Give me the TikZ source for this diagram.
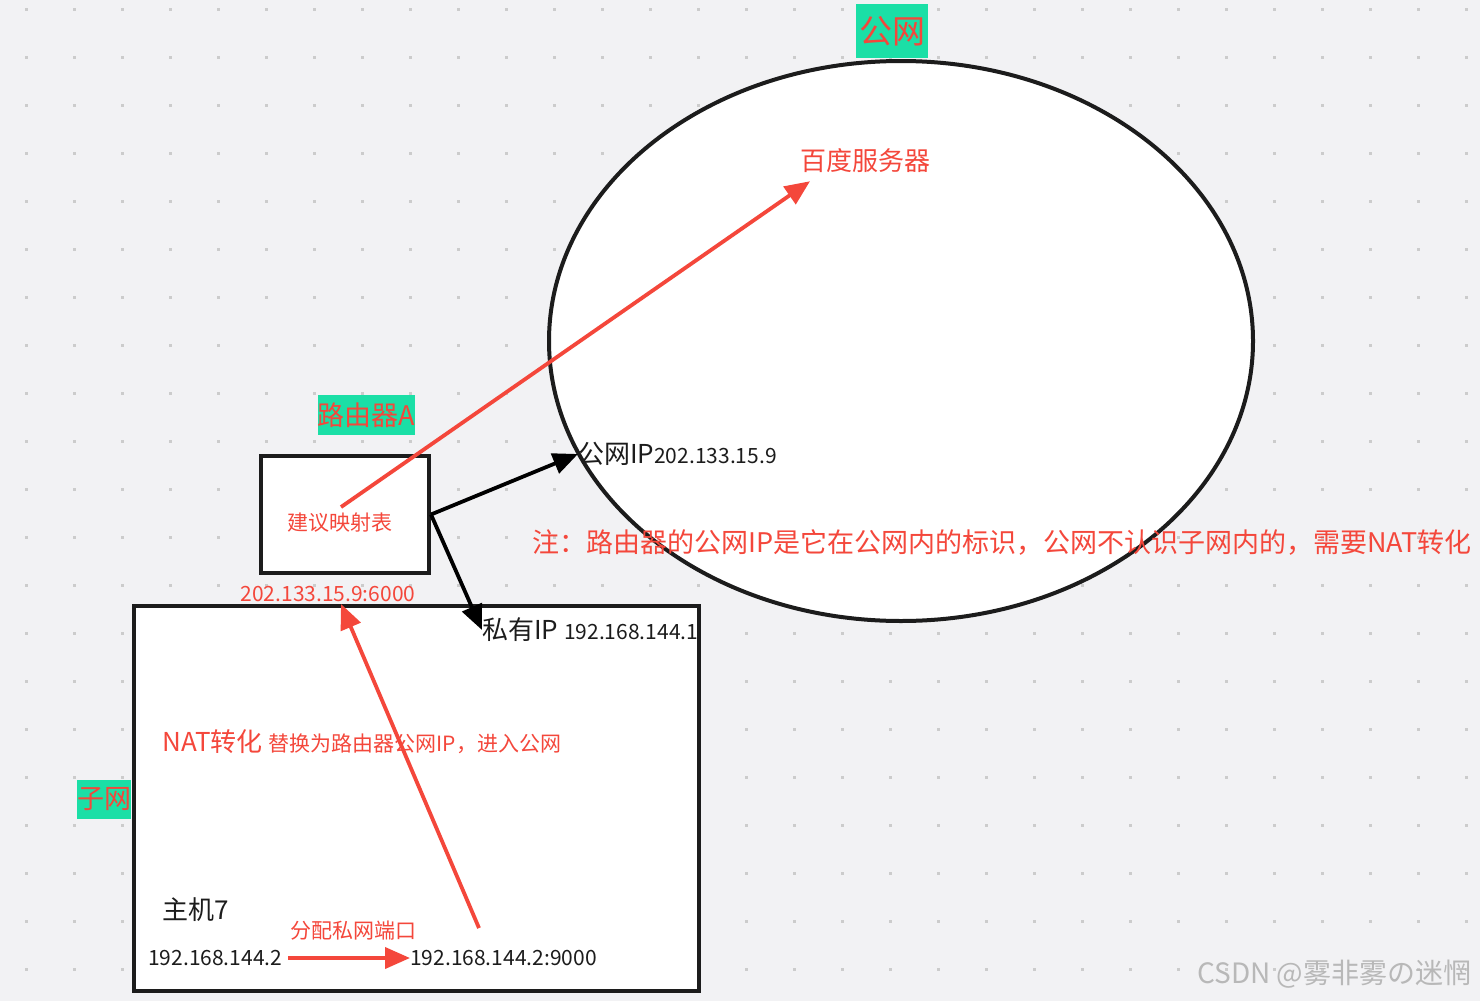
\documentclass[tikz,border=0pt]{standalone}
\usepackage{fontspec}
\setmainfont{Noto Sans CJK SC}
\usetikzlibrary{shapes.geometric, arrows.meta, positioning, calc}
\definecolor{natRed}{HTML}{F4473B}
\definecolor{natGreen}{HTML}{1BDFA6}
\definecolor{natInk}{HTML}{1C1C1C}
\definecolor{natBg}{HTML}{F2F2F4}
\definecolor{natDot}{HTML}{CCCCCC}
\newcommand{\fsz}[1]{\fontsize{#1}{#1}\selectfont}

\begin{document}
\begin{tikzpicture}[x=1pt, y=-1pt,
  frame/.style={draw=natInk, line width=4pt, fill=white, inner sep=0pt},
  tag/.style={fill=natGreen, text=natRed, inner sep=0pt},
  rtxt/.style={text=natRed, inner sep=0pt, anchor=west},
  btxt/.style={text=natInk, inner sep=0pt, anchor=west},
  blkarr/.style={draw=black, line width=3.8pt, -{Triangle[length=25pt,width=21pt]}},
  redarr/.style={draw=natRed, line width=3.8pt, -{Triangle[length=25pt,width=21pt]}}]

  % canvas and dot grid
  \fill[natBg] (0,0) rectangle (1480,1001);
  \useasboundingbox (0,0) rectangle (1480,1001);
  \foreach \x in {26,74,...,1466}
    \foreach \y in {9,57,...,969}
      \fill[natDot] (\x-1.5,\y-1.5) rectangle ++(3,3);

  % public network
  \node[frame, ellipse, minimum width=704pt, minimum height=560pt] (net) at (901,341) {};
  \node[tag, minimum width=72pt, minimum height=54pt] (nettag) at (892,31) {\fsz{33}公网};
  \node[rtxt] (baidu) at (800,161) {\fsz{26}百度服务器};
  \node[btxt] (pubip) at (578,454) {\fsz{26}公网IP{\fsz{21}202.133.15.9}};
  \node[rtxt] (note) at (532,543) {\fsz{27}注：路由器的公网IP是它在公网内的标识，公网不认识子网内的，需要NAT转化};

  % router
  \node[frame, minimum width=168pt, minimum height=117pt] (router) at (345,514.5) {};
  \node[tag, minimum width=97pt, minimum height=40pt] (routertag) at (366.5,415) {\fsz{27}路由器A};
  \node[text=natRed, inner sep=0pt] (map) at (340,523) {\fsz{21}建议映射表};

  % subnet
  \node[frame, minimum width=565pt, minimum height=385pt] (lan) at (416.5,798.5) {};
  \node[tag, minimum width=54pt, minimum height=39pt] (lantag) at (104,799.5) {\fsz{27}子网};
  \node[text=natRed, inner sep=0pt] (natip) at (328,594) {\fsz{21}202.133.15.9:6000};
  \node[btxt] (privip) at (482,630) {\fsz{26}私有IP {\fsz{21}192.168.144.1}};
  \node[rtxt] (nat) at (162,742) {\fsz{26}NAT转化 {\fsz{21}替换为路由器公网IP，进入公网}};
  \node[btxt] (host) at (162,910) {\fsz{26}主机7};
  \node[btxt] (hostip) at (148,958) {\fsz{21}192.168.144.2};
  \node[rtxt] (assign) at (290,931) {\fsz{21}分配私网端口};
  \node[btxt] (portip) at (410,958) {\fsz{21}192.168.144.2:9000};

  % connectors
  \draw[blkarr] (router.east) -- (pubip.west);
  \draw[blkarr] (router.east) -- (privip.west);
  \draw[redarr] (hostip.east) ++(6,0) -- (portip.west);
  \draw[redarr] ($(portip.north west)+(69,-22)$) -- ($(natip.south)+(13,2)$);
  \draw[redarr] ($(map.north)+(1,-6)$) -- ($(baidu.south west)+(10,8)$);

  % watermark
  \node[btxt, text=natDot!90!black] (mark) at (1197,974) {\fsz{28}CSDN @雾非雾の迷惘};
\end{tikzpicture}
\end{document}
